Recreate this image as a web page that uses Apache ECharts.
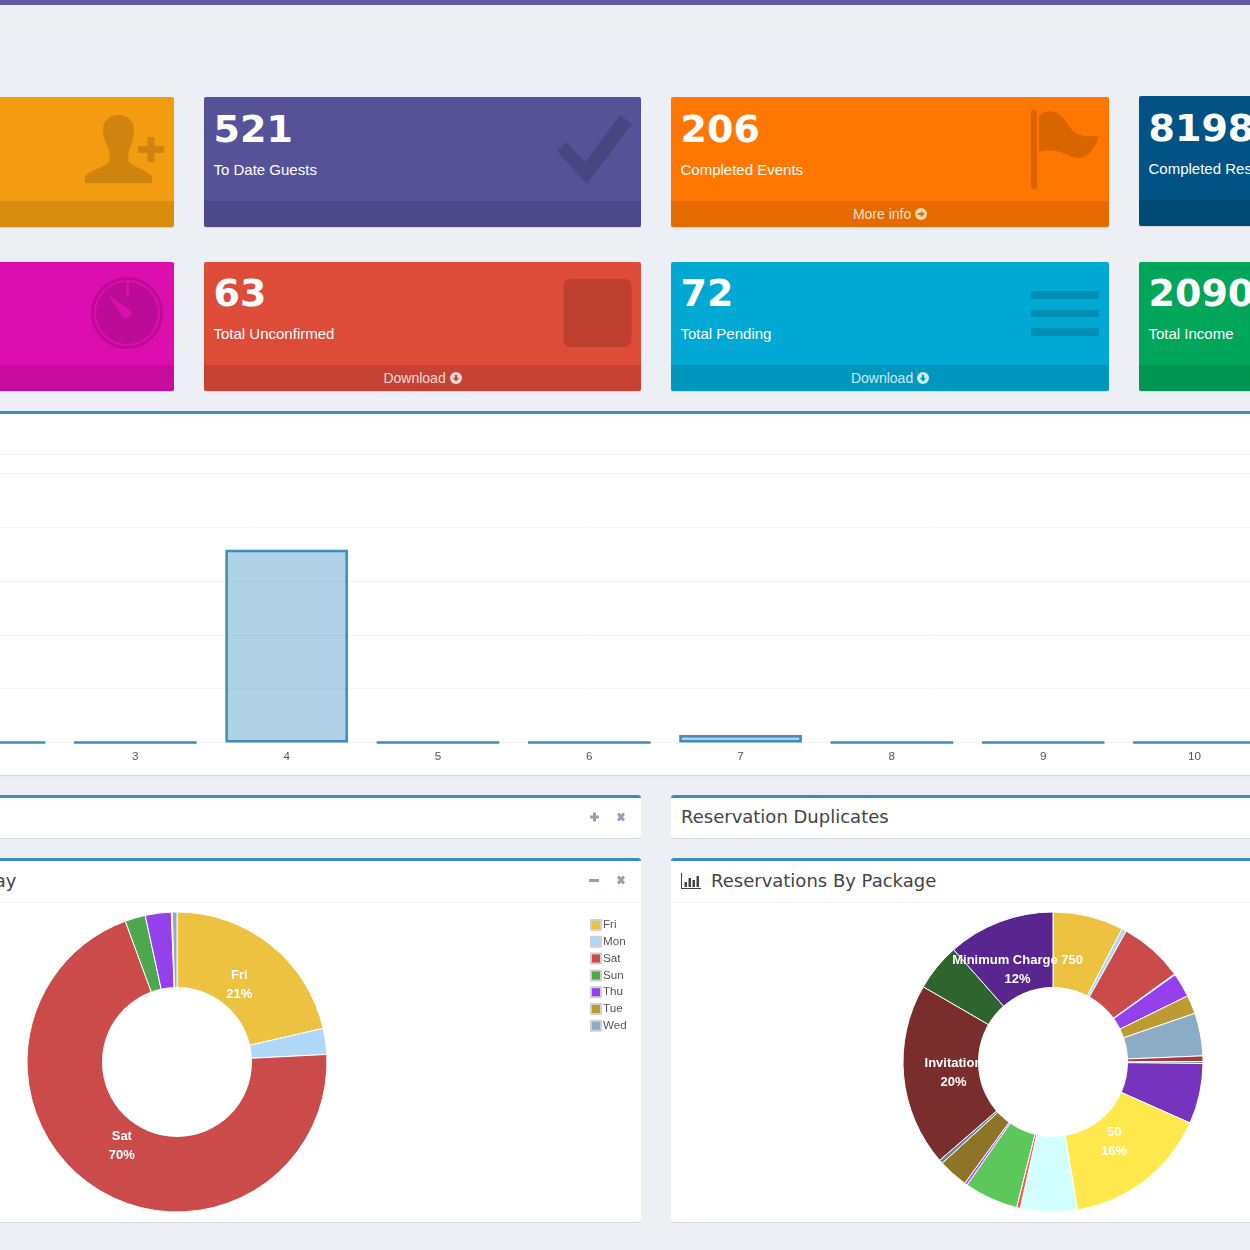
<!DOCTYPE html>
<html>
<head>
<meta charset="utf-8">
<title>Dashboard</title>
<script src="https://cdn.jsdelivr.net/npm/echarts@6/dist/echarts.min.js"></script>
<style>
  html, body { margin: 0; padding: 0; width: 1250px; height: 1250px; overflow: hidden; background: #ecf0f5; font-family: "Liberation Sans", Arial, sans-serif; }
  .abs, .card, .panel, .chart, svg { position: absolute; }
  .card { border-radius: 2px; box-shadow: 0 1px 1px rgba(0,0,0,.1); color: #fff; overflow: hidden; height: 130px; }
  .card.low { height: 129px; }
  .num { position: absolute; left: 9.5px; top: 10px; font: bold 38px/45px "DejaVu Sans", sans-serif; white-space: nowrap; }
  .lab { position: absolute; left: 9.5px; top: 64px; font-size: 15px; line-height: 18px; white-space: nowrap; }
  .row2 .num { top: 9px; }
  .row2 .lab { top: 63px; }
  .foot { position: absolute; left: 0; right: 0; bottom: 0; height: 26px; background: rgba(0,0,0,.1); color: rgba(255,255,255,.8); text-align: center; font-size: 14px; line-height: 26px; }
  .foot svg { position: static; vertical-align: -1px; margin-left: 0; }
  .panel { background: #fff; border-top: 3px solid #3c8dbc; border-radius: 3px; box-shadow: 0 1px 1px rgba(0,0,0,.1); }
  .title { position: absolute; font: 18px/22px "DejaVu Sans", sans-serif; color: #444; white-space: nowrap; }
  .rule { position: absolute; height: 1px; background: #f4f4f4; }
  .ico { fill: rgba(0,0,0,.15); }
</style>
</head>
<body>
<div class="abs" style="left:0;top:0;width:1250px;height:5px;background:#605ca8"></div>

<!-- row 1 -->
<div class="card" style="left:-263px;top:97px;width:437px;background:#f39c12">
  <svg class="ico" style="left:348px;top:18px" width="80" height="68" viewBox="0 0 80 68"><path d="M33.5 0c8.5 0 15.5 5 15.500 15 0 9-3 15-5 20-1 4-1 9 0 12 2 3 16 8 20 12 2 1 3 2 3 2v7H0v-7c4-5 20-9 24-14 1-3 1-8 0-12-2-5-6-11-6-20 0-10 7-15 15.500-15z"/><path d="M62.500 22h7v9h9.500v7h-9.500v9h-7v-9H53v-7h9.500z"/></svg>
  <div class="foot">&nbsp;</div>
</div>
<div class="card" style="left:204px;top:97px;width:437px;background:#565298">
  <div class="num">521</div><div class="lab">To Date Guests</div>
  <svg class="ico" style="left:353px;top:18px" width="76" height="70" viewBox="0 0 76 70"><path d="M0 36l9-9 19 20L63 0l12 9-45 60z"/></svg>
  <div class="foot">&nbsp;</div>
</div>
<div class="card" style="left:671px;top:97px;width:438px;background:#ff7701">
  <div class="num">206</div><div class="lab">Completed Events</div>
  <svg class="ico" style="left:360px;top:13px" width="70" height="80" viewBox="0 0 70 80"><rect x="0" y="0" width="6" height="79" rx="2"/><path d="M8 6C12 1 20 0 26 3 34 7 36 15 42 21 47 26 56 27 67.500 26 67 34 60 43 53 47 46 50 40 46 32 43 24 40 16 40 8 42z"/></svg>
  <div class="foot">More info <svg width="12" height="12" viewBox="0 0 12 12"><circle cx="6" cy="6" r="6" fill="#ffd9b0"/><path d="M2.800 5h3V2.800L9.600 6 5.800 9.200V7h-3z" fill="#e56b01"/></svg></div>
</div>
<div class="card" style="left:1139px;top:96px;width:438px;background:#005384">
  <div class="num">8198</div><div class="lab">Completed Reservations</div>
  <div class="foot">&nbsp;</div>
</div>

<!-- row 2 -->
<div class="card low row2" style="left:-263px;top:262px;width:437px;background:#dd0eaf">
  <svg class="ico" style="left:353px;top:14px" width="74" height="74" viewBox="0 0 74 74"><circle cx="37" cy="37" r="34.500" fill="none" stroke="rgba(0,0,0,.15)" stroke-width="3"/><circle cx="37" cy="37" r="31"/><rect x="36.500" y="4" width="2.500" height="17" fill="#dd0eaf"/><path d="M18 19L40 34A4.500 4.500 0 1 1 33 41z" fill="#dd0eaf"/></svg>
  <div class="foot">&nbsp;</div>
</div>
<div class="card low row2" style="left:204px;top:262px;width:437px;background:#dd4b39">
  <div class="num">63</div><div class="lab">Total Unconfirmed</div>
  <svg class="ico" style="left:359px;top:17px" width="69" height="69"><rect x="0.500" y="0" width="68" height="68" rx="7"/></svg>
  <div class="foot">Download <svg width="12" height="12" viewBox="0 0 12 12"><circle cx="6" cy="6" r="6" fill="#f8dbd7"/><path d="M5 2.800V5.800H2.800L6 9.600l3.200-3.800H7V2.800z" fill="#c64433"/></svg></div>
</div>
<div class="card low row2" style="left:671px;top:262px;width:438px;background:#00a9d4">
  <div class="num">72</div><div class="lab">Total Pending</div>
  <svg class="ico" style="left:360px;top:29px" width="68" height="46"><rect width="68" height="8"/><rect y="19" width="68" height="7"/><rect y="37" width="68" height="8"/></svg>
  <div class="foot">Download <svg width="12" height="12" viewBox="0 0 12 12"><circle cx="6" cy="6" r="6" fill="#cceef6"/><path d="M5 2.800V5.800H2.800L6 9.600l3.200-3.800H7V2.800z" fill="#0098bf"/></svg></div>
</div>
<div class="card low row2" style="left:1139px;top:262px;width:438px;background:#00a65a">
  <div class="num">2090</div><div class="lab">Total Income</div>
  <div class="foot">&nbsp;</div>
</div>

<!-- bar panel -->
<div class="panel" style="left:-263px;top:411px;width:1800px;height:361px;overflow:hidden">
  <div id="barChart" class="chart" style="left:143px;top:0;width:1400px;height:361px"></div>
</div>

<!-- small panels -->
<div class="panel" style="left:-263px;top:795px;width:904px;height:40px">
  <svg style="left:852px;top:13px" width="40" height="14" viewBox="0 0 40 14" fill="#97a0b3"><path d="M4 1.500h3v3h3v3H7v3H4v-3H1v-3h3z"/><path d="M28 3.500l2-2 2 2 2-2 2 2-2 2.500 2 2.500-2 2-2-2-2 2-2-2 2-2.500z"/></svg>
</div>
<div class="panel" style="left:671px;top:795px;width:900px;height:40px">
  <div class="title" style="left:10px;top:8px">Reservation Duplicates</div>
</div>

<!-- pie panels -->
<div class="panel" style="left:-263px;top:858px;width:904px;height:361px">
  <div class="title" style="right:624.5px;top:9px">Reservations By Day</div>
  <svg style="left:852px;top:13px" width="40" height="14" viewBox="0 0 40 14" fill="#97a0b3"><rect x="0" y="5" width="10" height="3"/><path d="M28 3.500l2-2 2 2 2-2 2 2-2 2.500 2 2.500-2 2-2-2-2 2-2-2 2-2.500z"/></svg>
  <div class="rule" style="left:0;right:0;top:41px"></div>
  <div id="dayChart" class="chart" style="left:263px;top:41px;width:641px;height:320px"></div>
</div>
<div class="panel" style="left:671px;top:858px;width:900px;height:361px">
  <svg style="left:10px;top:12px" width="20" height="16" viewBox="0 0 20 16" fill="#444"><path d="M0 0h1v15h19v1H0z"/><rect x="3.500" y="9" width="2.500" height="5"/><rect x="7.500" y="5" width="2.500" height="9"/><rect x="11.500" y="7" width="2.500" height="7"/><rect x="15.500" y="3" width="2.500" height="11"/></svg>
  <div class="title" style="left:40px;top:9px">Reservations By Package</div>
  <div class="rule" style="left:0;right:0;top:41px"></div>
  <div id="packageChart" class="chart" style="left:0;top:41px;width:579px;height:320px"></div>
</div>

<script>
// bar chart
const barCategories = ['2', '3', '4', '5', '6', '7', '8', '9', '10']
const barValues = [0, 0, 3580, 0, 0, 140, 0, 0, 0]

// reservations by day
const dayNames = ['Fri', 'Mon', 'Sat', 'Sun', 'Thu', 'Tue', 'Wed']
const dayValues = [214, 28, 702, 22, 28, 1, 5]
const dayColors = ['#edc240', '#afd8f8', '#cb4b4b', '#4da74d', '#9440ed', '#bd9b33', '#8cacc6']

// reservations by package, only three names can be read
const packageNames = ['p1', 'p2', 'p3', 'p4', 'p5', 'p6', 'p7', 'p8', 'p9', 'p10', '50', 'p12', 'p13', 'p14', 'p15', 'p16', 'p17', 'Invitation', 'p19', 'Minimum Charge 750']
const packageValues = [76, 5, 69, 1, 26, 20, 46, 6, 2, 65, 157, 61, 4, 58, 3, 32, 4, 197, 51, 115]
const packageColors = ['#edc240', '#afd8f8', '#cb4b4b', '#4da74d', '#9440ed', '#bd9b33', '#8cacc6', '#a23c3c', '#3d853d', '#7633bd', '#ffe84c', '#d2ffff', '#f35a5a', '#5cc85c', '#b14cff', '#8e7426', '#698195', '#792d2d', '#2e642e', '#58268e']

const barChart = echarts.init(document.getElementById('barChart'))
barChart.setOption({
  animation: false,
  grid: { left: 28.4, top: 40.5, width: 1361.7, height: 288 },
  xAxis: {
    type: 'category',
    data: barCategories,
    axisLine: { show: false },
    axisTick: { show: false },
    axisLabel: { color: '#545454', fontSize: 11.67, fontFamily: 'Liberation Sans', margin: 8.5 }
  },
  yAxis: {
    type: 'value',
    min: 0,
    max: 5350,
    interval: 1000,
    axisLabel: { show: false },
    splitLine: { lineStyle: { color: '#f3f3f3', width: 1 } }
  },
  series: [{
    type: 'bar',
    data: barValues,
    barCategoryGap: '19%',
    itemStyle: { color: 'rgba(60,141,188,0.4)', borderColor: '#3c8dbc', borderWidth: 2.5 }
  }]
})

// flot style donut: the text sits at 2/3 of the radius and goes under the hole
function donutOption(names, values, colors, center) {
  const total = values.reduce((a, b) => a + b, 0)
  return {
    animation: false,
    series: [{
      type: 'pie',
      z: 2,
      center: center,
      radius: [44, 150],
      startAngle: 90,
      clockwise: true,
      avoidLabelOverlap: false,
      silent: true,
      data: names.map((name, i) => ({ name: name, value: values[i] })),
      color: colors,
      itemStyle: { borderColor: '#fff', borderWidth: 1 },
      label: {
        position: 'inside',
        color: '#fff',
        fontFamily: 'Liberation Sans',
        fontSize: 13,
        fontWeight: 'bold',
        lineHeight: 19,
        offset: [0, 1],
        formatter: p => {
          const pct = p.value / total * 100
          return pct > 10 ? p.name + '\n' + Math.round(pct) + '%' : ''
        }
      },
      labelLine: { show: false }
    }, {
      type: 'pie',
      z: 3,
      center: center,
      radius: [0, 75],
      silent: true,
      data: [{ name: 'hole', value: 1 }],
      itemStyle: { color: '#fff' },
      label: { show: false },
      labelLine: { show: false }
    }]
  }
}

const dayChart = echarts.init(document.getElementById('dayChart'))
const dayOption = donutOption(dayNames, dayValues, dayColors, [177, 160])
dayOption.legend = {
  data: dayNames,
  orient: 'vertical',
  left: 590,
  top: 17,
  padding: 0,
  icon: 'rect',
  itemWidth: 10,
  itemHeight: 10,
  itemGap: 4.8,
  selectedMode: false,
  itemStyle: { borderColor: '#d0d0d0', borderWidth: 2 },
  textStyle: { color: '#545454', fontSize: 11.67, fontFamily: 'Liberation Sans', padding: [0, 0, 0, -3] }
}
dayChart.setOption(dayOption)

const packageChart = echarts.init(document.getElementById('packageChart'))
packageChart.setOption(donutOption(packageNames, packageValues, packageColors, [382, 160]))
</script>
</body>
</html>
